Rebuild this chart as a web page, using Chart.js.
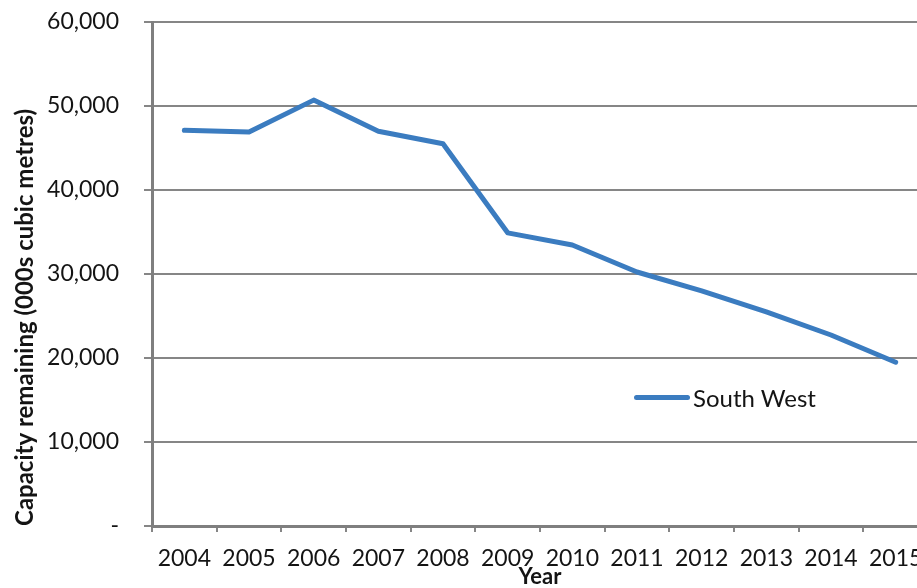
<!DOCTYPE html>
<html>
<head>
<meta charset="utf-8">
<script src="https://cdn.jsdelivr.net/npm/chart.js@4"></script>
<style>
html, body { margin: 0; padding: 0; background: #fff; overflow: hidden; }
#wrap { position: relative; width: 940px; height: 600px; }
#legend { position: absolute; left: 634px; top: 383px; font: 24px Lato, sans-serif; color: #141414; display: flex; align-items: center; }
#legend .swatch { display: inline-block; width: 56px; height: 5px; border-radius: 3px; margin-right: 3px; }
</style>
</head>
<body>
<div id="wrap">
  <canvas id="chart" width="940" height="600"></canvas>
  <div id="legend"></div>
</div>
<script>
const years = ["2004","2005","2006","2007","2008","2009","2010","2011","2012","2013","2014","2015"];
const southWest = [47100, 46900, 50700, 47000, 45500, 34900, 33450, 30240, 27980, 25480, 22740, 19500];
const seriesName = "South West";
const lineColor = "#3b7cc0";

const gridGray = "#868686";
const textColor = "#141414";

const chart = new Chart(document.getElementById("chart"), {
  type: "line",
  data: {
    labels: years,
    datasets: [{
      label: seriesName,
      data: southWest,
      borderColor: lineColor,
      borderWidth: 5,
      pointRadius: 0,
      tension: 0,
      borderCapStyle: "round",
      borderJoinStyle: "round"
    }]
  },
  options: {
    responsive: false,
    animation: false,
    layout: { padding: { top: 22, right: 12, left: 0, bottom: 0 } },
    plugins: { legend: { display: false }, tooltip: { enabled: false } },
    scales: {
      x: {
        offset: true,
        grid: { offset: true, drawOnChartArea: false, drawTicks: true, tickLength: 6, color: gridGray, lineWidth: 2 },
        border: { color: "#7f7f7f", width: 3 },
        ticks: { color: textColor, font: { family: "Lato", size: 23 }, padding: 13, maxRotation: 0, autoSkip: false },
        title: { display: true, text: "Year", color: textColor, font: { family: "Lato", size: 22, weight: "bold" }, padding: { top: 0, bottom: 10 } },
        afterFit: s => { s.height = 74; }
      },
      y: {
        min: 0,
        max: 60000,
        ticks: {
          stepSize: 10000,
          color: textColor,
          font: { family: "Lato", size: 23 },
          padding: 25,
          callback: v => v === 0 ? "-" : v.toLocaleString("en-US")
        },
        grid: { color: gridGray, lineWidth: 2, tickLength: 8 },
        border: { color: "#7f7f7f", width: 3 },
        title: { display: true, text: "Capacity remaining (000s cubic metres)", align: "start", color: textColor, font: { family: "Lato", size: 24, weight: "bold" }, padding: { top: 11, bottom: 0 } },
        afterFit: s => { s.width = 152; s.paddingTop = 0; s.paddingBottom = 0; }
      }
    }
  }
});

const legend = document.getElementById("legend");
legend.innerHTML = '<span class="swatch" style="background:' + lineColor + '"></span>' + seriesName;
</script>
</body>
</html>
